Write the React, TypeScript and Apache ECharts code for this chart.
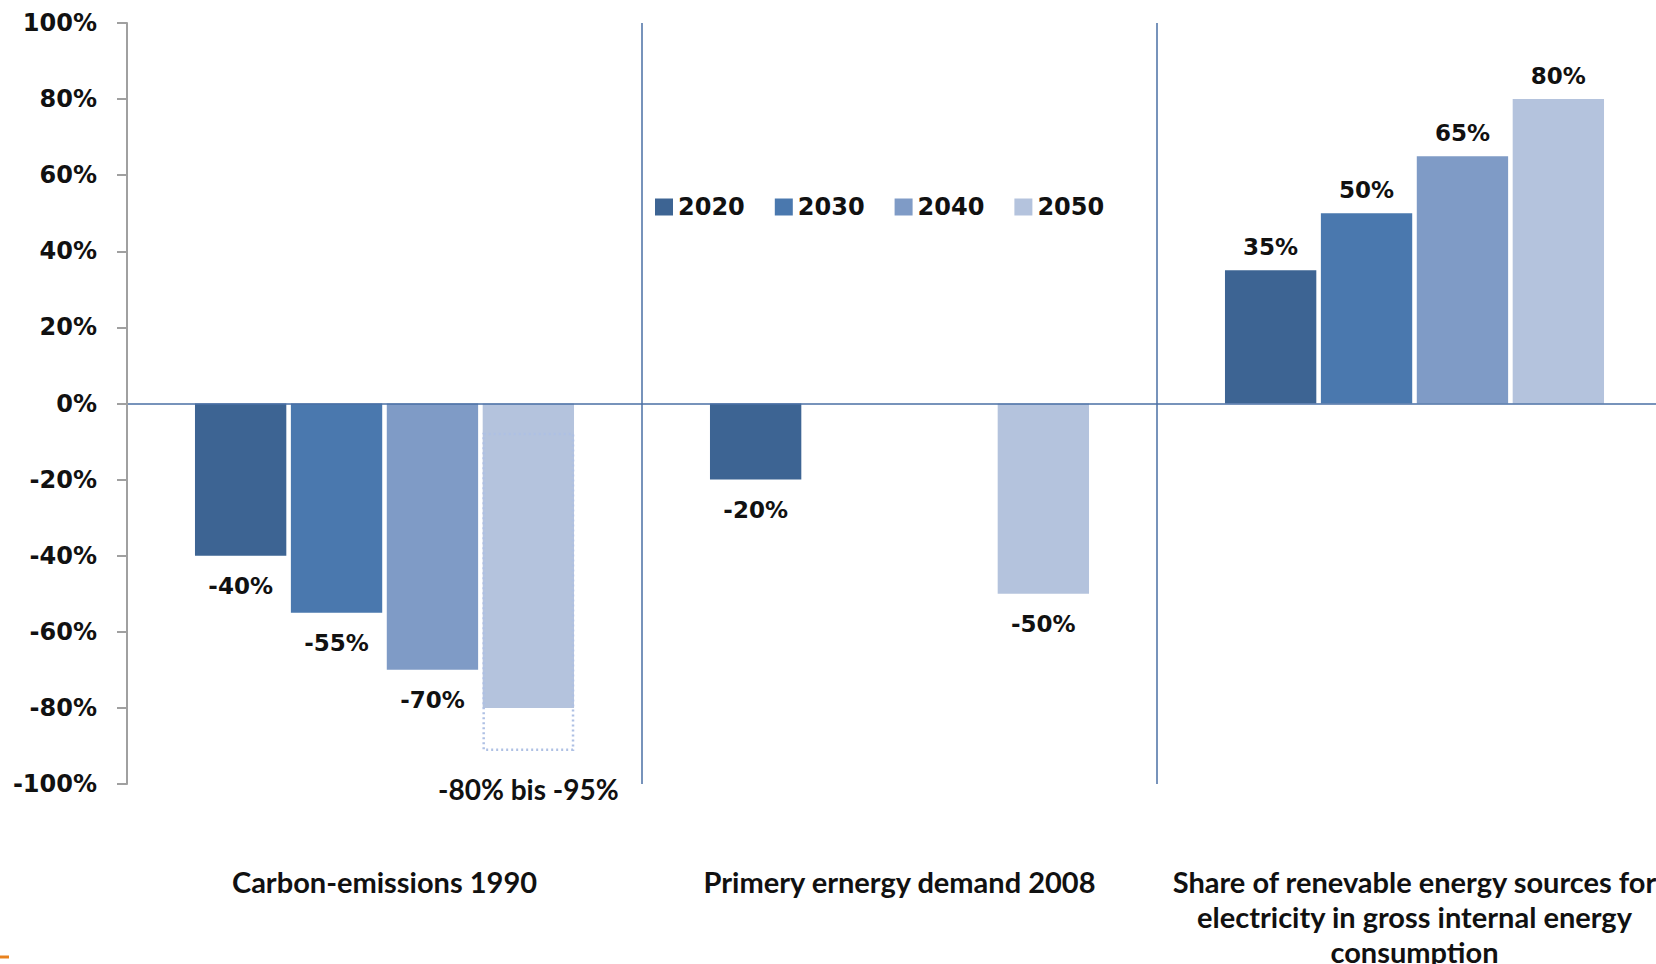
import React, { useEffect, useRef } from "react";
import * as echarts from "echarts";

const categories = [
  "Carbon-emissions 1990",
  "Primery ernergy demand 2008",
  "Share of renevable energy sources for\nelectricity in gross internal energy\nconsumption",
];
const seriesNames = ["2020", "2030", "2040", "2050"];
const values2020 = [-40, -20, 35];
const values2030 = [-55, null, 50];
const values2040 = [-70, null, 65];
const values2050 = [-80, -50, 80];
const hiddenLabel2050 = [true, false, false];
const colors = ["#3D6493", "#4A78AE", "#7F9BC6", "#B4C3DD"];
const rangeBox = [[0, -8, -91]];
const rangeLabel = "-80% bis -95%";
const yTicks = { min: -100, max: 100, interval: 20 };

const CAT_GAP = 0.264;
const BAR_GAP = 0.05;
const CHART_W = 1700;

export default function App() {
  const ref = useRef<HTMLDivElement>(null);
  useEffect(() => {
    if (!ref.current) return;
    const chart = echarts.init(ref.current, null, { renderer: "svg" });
    const allValues = [values2020, values2030, values2040, values2050];
    const verdana = "DejaVu Sans";
    const calibri = "Lato";
    const barSeries = allValues.map((vals, si) => ({
      name: seriesNames[si],
      type: "bar",
      barCategoryGap: CAT_GAP * 100 + "%",
      barGap: BAR_GAP * 100 + "%",
      itemStyle: { color: colors[si] },
      data: vals.map((v, ci) => {
        if (v === null) return null;
        const hide = si === 3 && hiddenLabel2050[ci];
        return {
          value: v,
          label: {
            show: !hide,
            position: v < 0 ? "bottom" : "top",
            distance: v < 0 ? 19 : 12,
          },
        };
      }),
      label: {
        formatter: (p: any) => p.value + "%",
        fontFamily: verdana,
        fontWeight: "bold",
        fontSize: 23,
        color: "#111",
      },
      z: 2,
      markLine:
        si === 0
          ? {
              silent: true,
              symbol: "none",
              label: { show: false },
              lineStyle: { color: "#4A6FA5", type: "solid", width: 1.5 },
              data: [{ yAxis: 0 }],
              z: 3,
            }
          : undefined,
    }));

    const customSeries = {
      type: "custom",
      name: "range",
      data: rangeBox,
      encode: { x: 0, y: [1, 2] },
      z: 5,
      renderItem: (params: any, api: any) => {
        const cat = api.value(0);
        const top = api.value(1);
        const bot = api.value(2);
        const p0 = api.coord([cat, top]);
        const p1 = api.coord([cat, bot]);
        const catW = api.size([1, 0])[0];
        const groupW = catW * (1 - CAT_GAP);
        const w = groupW / (4 + 3 * BAR_GAP);
        const x = p0[0] - groupW / 2 + 3 * w * (1 + BAR_GAP);
        return {
          type: "group",
          children: [
            {
              type: "rect",
              shape: { x: x + 1, y: p0[1], width: w - 2, height: p1[1] - p0[1] },
              style: { fill: "none", stroke: "#AEC0E4", lineWidth: 2.5, lineDash: [2, 3] },
            },
            {
              type: "text",
              style: {
                text: rangeLabel,
                x: x + w / 2,
                y: p1[1] + 39,
                align: "center",
                verticalAlign: "middle",
                fontFamily: calibri,
                fontWeight: "bold",
                fontSize: 28,
                fill: "#111",
              },
            },
          ],
        };
      },
    };

    chart.setOption({
      animation: false,
      backgroundColor: "#fff",
      grid: {
        left: 127,
        right: CHART_W - 1672,
        top: 23,
        bottom: 180,
        containLabel: false,
        outerBoundsMode: "none",
      },
      legend: {
        data: seriesNames,
        left: 650,
        top: 190,
        icon: "rect",
        itemWidth: 18,
        itemHeight: 17,
        itemGap: 30,
        textStyle: { fontFamily: verdana, fontWeight: "bold", fontSize: 24, color: "#111" },
      },
      xAxis: {
        type: "category",
        data: categories,
        axisLine: { show: false, onZero: false },
        axisTick: { show: false },
        splitLine: { show: true, lineStyle: { color: "#4A6FA5", width: 1.5 } },
        axisLabel: {
          interval: 0,
          margin: 80,
          fontFamily: calibri,
          fontWeight: "bold",
          fontSize: 29,
          lineHeight: 35,
          color: "#111",
        },
      },
      yAxis: {
        type: "value",
        min: yTicks.min,
        max: yTicks.max,
        interval: yTicks.interval,
        z: 4,
        axisLine: { show: true, lineStyle: { color: "#A0A0A0", width: 2 } },
        axisTick: { show: true, length: 10, lineStyle: { color: "#A0A0A0", width: 2 } },
        splitLine: { show: false },
        axisLabel: {
          margin: 30,
          formatter: (v: number) => v + "%",
          fontFamily: verdana,
          fontWeight: "bold",
          fontSize: 24,
          color: "#111",
        },
      },
      graphic: [
        {
          type: "line",
          shape: { x1: 0, y1: 957, x2: 9, y2: 957 },
          style: { stroke: "#E8821E", lineWidth: 3 },
        },
      ],
      series: [...barSeries, customSeries],
    });
    return () => chart.dispose();
  }, []);
  return (
    <div
      style={{
        position: "absolute",
        left: 0,
        top: 0,
        width: 1656,
        height: 964,
        overflow: "hidden",
      }}
    >
      <div ref={ref} style={{ width: CHART_W, height: 964 }} />
    </div>
  );
}
